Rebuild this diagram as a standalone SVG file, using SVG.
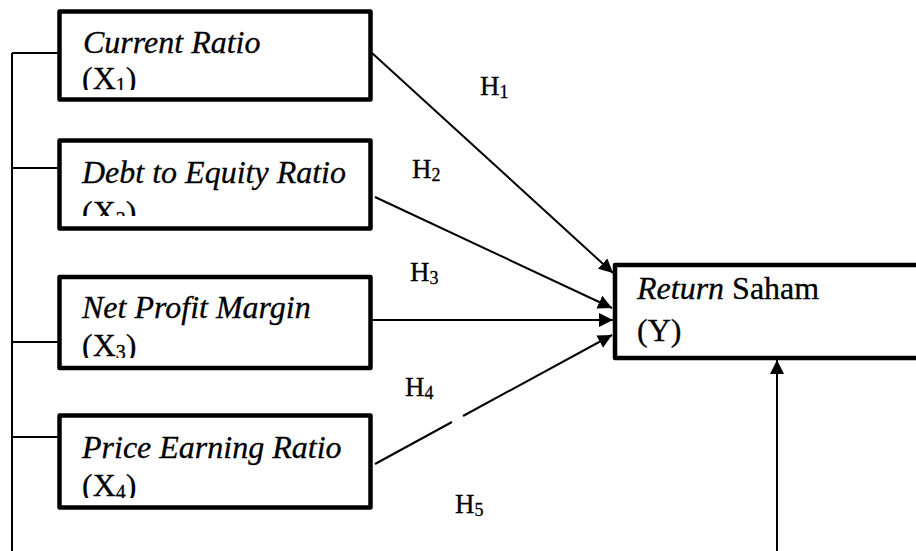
<svg xmlns="http://www.w3.org/2000/svg" width="916" height="551" viewBox="0 0 916 551">
<style>
.box{fill:#fff;stroke:#000;stroke-width:4.5;stroke-linejoin:round}
.ln{fill:none;stroke:#000;stroke-width:2}
text{font-family:'Liberation Serif','Times New Roman',serif;fill:#000;stroke:#000;stroke-width:0.3}
.t{font-size:32px}
.i{font-style:italic}
.h{font-size:27px}
.sub{font-size:20px}
.hs{font-size:18px}
</style>
<defs>
<marker id="ah" markerUnits="userSpaceOnUse" markerWidth="16" markerHeight="16" refX="14" refY="7" orient="auto"><path d="M0,0 L14,7 L0,14 Z" fill="#000"/></marker>
<clipPath id="c1"><rect x="62" y="14" width="306" height="76"/></clipPath>
<clipPath id="c2"><rect x="62" y="143" width="306" height="73"/></clipPath>
<clipPath id="c3"><rect x="62" y="280" width="306" height="78"/></clipPath>
<clipPath id="c4"><rect x="62" y="418" width="306" height="80"/></clipPath>
</defs>
<rect width="916" height="551" fill="#fff"/>
<g id="connectors">
<path class="ln" d="M12,53 V551 M12,53 H59 M12,168 H59 M12,342 H59 M12,437 H59"/>
<line class="ln" x1="372" y1="53" x2="613" y2="273" marker-end="url(#ah)"/>
<line class="ln" x1="375" y1="197" x2="612" y2="308" marker-end="url(#ah)"/>
<line class="ln" x1="372" y1="320" x2="613" y2="320" marker-end="url(#ah)"/>
<line class="ln" x1="375" y1="464" x2="452" y2="422"/>
<line class="ln" x1="463" y1="416" x2="612" y2="335" marker-end="url(#ah)"/>
<line class="ln" x1="777" y1="551" x2="777" y2="360" marker-end="url(#ah)"/>
</g>
<g id="labels">
<text class="h" x="480" y="95">H<tspan class="hs" dy="3">1</tspan></text>
<text class="h" x="412" y="178">H<tspan class="hs" dy="3">2</tspan></text>
<text class="h" x="410" y="281">H<tspan class="hs" dy="3">3</tspan></text>
<text class="h" x="405" y="396">H<tspan class="hs" dy="3">4</tspan></text>
<text class="h" x="455" y="513">H<tspan class="hs" dy="3">5</tspan></text>
</g>
<g id="x1">
<rect class="box" x="59.5" y="11.5" width="311" height="88"/>
<g clip-path="url(#c1)">
<text class="t i" x="83" y="53">Current Ratio</text>
<text class="t" x="82" y="89">(X<tspan class="sub" dy="3">1</tspan><tspan dy="-3">)</tspan></text>
</g>
</g>
<g id="x2">
<rect class="box" x="59.5" y="140.5" width="311" height="88"/>
<g clip-path="url(#c2)">
<text class="t i" x="82" y="183">Debt to Equity Ratio</text>
<text class="t" x="82" y="223">(X<tspan class="sub" dy="3">2</tspan><tspan dy="-3">)</tspan></text>
</g>
</g>
<g id="x3">
<rect class="box" x="59.5" y="277" width="311" height="91"/>
<g clip-path="url(#c3)">
<text class="t i" x="82" y="318">Net Profit Margin</text>
<text class="t" x="82" y="356">(X<tspan class="sub" dy="3">3</tspan><tspan dy="-3">)</tspan></text>
</g>
</g>
<g id="x4">
<rect class="box" x="59.5" y="415.5" width="311" height="92"/>
<g clip-path="url(#c4)">
<text class="t i" x="82" y="458">Price Earning Ratio</text>
<text class="t" x="82" y="496">(X<tspan class="sub" dy="3">4</tspan><tspan dy="-3">)</tspan></text>
</g>
</g>
<g id="y">
<rect class="box" x="615" y="265" width="320" height="93"/>
<text class="t" x="637" y="299"><tspan class="i">Return</tspan> Saham</text>
<text class="t" x="637" y="341">(Y)</text>
</g>
</svg>
